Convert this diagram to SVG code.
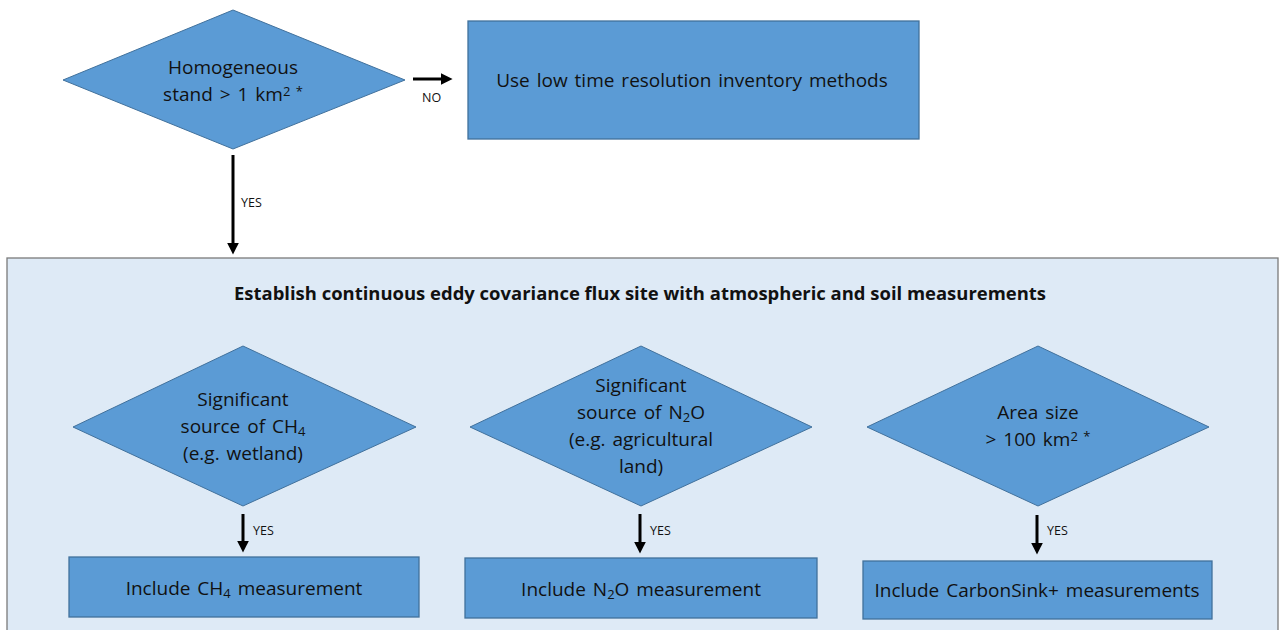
<svg xmlns="http://www.w3.org/2000/svg" width="1282" height="630" viewBox="0 0 1282 630">
<defs>
<style>
.dia{fill:#5b9bd5;stroke:#41719c;stroke-width:1}
.box{fill:#5b9bd5;stroke:#41719c;stroke-width:1.3}
.t{font-family:"Open Sans","Liberation Sans",sans-serif;font-size:19px;fill:#111;text-anchor:middle;word-spacing:2px}
.sub{font-size:13px}
.lbl{font-family:"Open Sans","Liberation Sans",sans-serif;font-size:12.5px;fill:#111}
.title{font-family:"Open Sans","Liberation Sans",sans-serif;font-size:17px;font-weight:bold;fill:#111;text-anchor:middle}
.ar{stroke:#000;stroke-width:3;fill:none;marker-end:url(#ah)}
</style>
<marker id="ah" viewBox="0 0 10 10" refX="2" refY="5" markerWidth="4" markerHeight="4" orient="auto" markerUnits="strokeWidth">
<path d="M0,0 L10,5 L0,10 z" fill="#000"/>
</marker>
</defs>
<rect width="1282" height="630" fill="#fff"/>
<g id="container">
<rect x="7" y="258" width="1271" height="380" fill="#deeaf6" stroke="#7a7a7a" stroke-width="1.3"/>
<text class="title" x="640" y="300" textLength="812" lengthAdjust="spacingAndGlyphs">Establish continuous eddy covariance flux site with atmospheric and soil measurements</text>
</g>
<g id="n-homogeneous">
<polygon class="dia" points="233,10 405,80 233,149 63,80"/>
<text class="t" x="233" y="74">Homogeneous</text>
<text class="t" x="233" y="101">stand &gt; 1 km<tspan class="sub" baseline-shift="5">2</tspan><tspan class="sub" baseline-shift="5"> *</tspan></text>
</g>
<g id="n-lowres">
<rect class="box" x="468" y="21" width="451" height="118"/>
<text class="t" x="692" y="87">Use low time resolution inventory methods</text>
</g>
<g id="n-ch4q">
<polygon class="dia" points="243,346 416,427 243,506 73,427"/>
<text class="t" x="243" y="406">Significant</text>
<text class="t" x="243" y="433">source of CH<tspan class="sub" baseline-shift="-3">4</tspan></text>
<text class="t" x="243" y="460">(e.g. wetland)</text>
</g>
<g id="n-n2oq">
<polygon class="dia" points="641,346 812,427 641,506 470,427"/>
<text class="t" x="641" y="392">Significant</text>
<text class="t" x="641" y="419">source of N<tspan class="sub" baseline-shift="-3">2</tspan>O</text>
<text class="t" x="641" y="446">(e.g. agricultural</text>
<text class="t" x="641" y="473">land)</text>
</g>
<g id="n-areaq">
<polygon class="dia" points="1038,346 1209,427 1038,506 867,427"/>
<text class="t" x="1038" y="419">Area size</text>
<text class="t" x="1038" y="446">&gt; 100 km<tspan class="sub" baseline-shift="5">2</tspan><tspan class="sub" baseline-shift="5"> *</tspan></text>
</g>
<g id="n-ch4">
<rect class="box" x="69" y="557" width="350" height="60"/>
<text class="t" x="244" y="595">Include CH<tspan class="sub" baseline-shift="-3">4</tspan> measurement</text>
</g>
<g id="n-n2o">
<rect class="box" x="465" y="558" width="352" height="60"/>
<text class="t" x="641" y="596">Include N<tspan class="sub" baseline-shift="-3">2</tspan>O measurement</text>
</g>
<g id="n-cs">
<rect class="box" x="863" y="561" width="349" height="58"/>
<text class="t" x="1037" y="597">Include CarbonSink+ measurements</text>
</g>
<g id="connectors">
<line class="ar" x1="413" y1="79" x2="443" y2="79"/>
<text class="lbl" x="422" y="102">NO</text>
<line class="ar" x1="233" y1="155" x2="233" y2="245"/>
<text class="lbl" x="241" y="207">YES</text>
<line class="ar" x1="243" y1="514" x2="243" y2="543"/>
<text class="lbl" x="253" y="535">YES</text>
<line class="ar" x1="640" y1="514" x2="640" y2="544"/>
<text class="lbl" x="650" y="535">YES</text>
<line class="ar" x1="1037" y1="515" x2="1037" y2="545"/>
<text class="lbl" x="1047" y="535">YES</text>
</g>
</svg>
